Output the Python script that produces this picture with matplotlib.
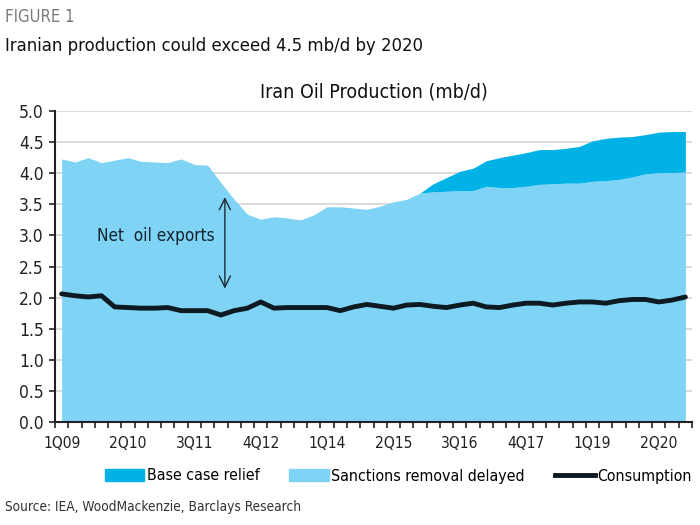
import matplotlib
matplotlib.use("Agg")
import matplotlib.pyplot as plt
from matplotlib.patches import Patch
from matplotlib.lines import Line2D

# quarters 1Q09 .. 4Q20
quarters = [f"{q}Q{y:02d}" for y in range(9, 21) for q in range(1, 5)]
tick_labels = ["1Q09", "2Q10", "3Q11", "4Q12", "1Q14", "2Q15", "3Q16", "4Q17", "1Q19", "2Q20"]

# Sanctions removal delayed (top of light area)
delayed = [4.23, 4.18, 4.25, 4.17, 4.21, 4.25, 4.19, 4.18, 4.17, 4.23, 4.14, 4.13,
           3.85, 3.58, 3.34, 3.26, 3.30, 3.28, 3.25, 3.33, 3.46, 3.46, 3.44, 3.42,
           3.47, 3.54, 3.58, 3.68, 3.70, 3.71, 3.72, 3.72, 3.79, 3.77, 3.77, 3.79,
           3.82, 3.83, 3.84, 3.84, 3.87, 3.88, 3.90, 3.94, 3.99, 4.01, 4.01, 4.02]

# Base case relief (total production)
base = [4.23, 4.18, 4.25, 4.17, 4.21, 4.25, 4.19, 4.18, 4.17, 4.23, 4.14, 4.13,
        3.85, 3.58, 3.34, 3.26, 3.30, 3.28, 3.25, 3.33, 3.46, 3.46, 3.44, 3.42,
        3.47, 3.54, 3.58, 3.68, 3.83, 3.93, 4.03, 4.08, 4.20, 4.25, 4.29, 4.33,
        4.38, 4.38, 4.40, 4.43, 4.52, 4.56, 4.58, 4.59, 4.62, 4.66, 4.67, 4.67]

consumption = [2.06, 2.03, 2.01, 2.03, 1.85, 1.84, 1.83, 1.83, 1.84, 1.79, 1.79, 1.79,
               1.72, 1.79, 1.83, 1.93, 1.83, 1.84, 1.84, 1.84, 1.84, 1.79, 1.85, 1.89,
               1.86, 1.83, 1.88, 1.89, 1.86, 1.84, 1.88, 1.91, 1.85, 1.84, 1.88, 1.91,
               1.91, 1.88, 1.91, 1.93, 1.93, 1.91, 1.95, 1.97, 1.97, 1.93, 1.96, 2.01]

c_base = "#00b2e6"
c_delay = "#7fd3f5"
c_line = "#0d1a22"


def font(size):
    return {"family": "DejaVu Sans", "stretch": "condensed", "size": size}


fig = plt.figure(figsize=(7, 5.25), dpi=100)
ax = fig.add_axes([55 / 700, 103 / 525, 637 / 700, 311 / 525])

x = list(range(len(quarters)))
ax.fill_between(x, 0, delayed, color=c_delay, lw=0, zorder=2)
ax.fill_between(x, delayed, base, color=c_base, lw=0, zorder=2)
ax.plot(x, consumption, color=c_line, lw=3.5, zorder=3, solid_capstyle="round")

ax.set_xlim(-0.5, len(quarters) - 0.5)
ax.set_ylim(0, 5.0)
ax.set_yticks([i * 0.5 for i in range(11)])
ax.set_yticklabels([f"{i * 0.5:.1f}" for i in range(11)], fontdict=font(12.5), color="#222222")
ax.set_xticks([quarters.index(t) for t in tick_labels])
ax.set_xticklabels(tick_labels, fontdict=font(11.2), color="#222222")
ax.set_xticks([i - 0.5 for i in range(len(quarters) + 1)], minor=True)
ax.tick_params(axis="x", which="major", length=0, pad=10)
ax.tick_params(axis="x", which="minor", length=4, width=1.2, color="#222222", direction="out")
ax.tick_params(axis="y", length=4, width=1.2, color="#222222", pad=4)

ax.grid(axis="y", color="#d4d4d4", lw=1.2, zorder=0)
ax.set_axisbelow(True)
for s in ["top", "right"]:
    ax.spines[s].set_visible(False)
for s in ["left", "bottom"]:
    ax.spines[s].set_color("#222222")
    ax.spines[s].set_linewidth(1.5)

ax.annotate("", xy=(12.3, 2.1), xytext=(12.3, 3.66),
            arrowprops=dict(arrowstyle="<->", color="#1a2a35", lw=1.0, mutation_scale=20))
ax.text(2.67, 2.99, "Net  oil exports", fontdict=font(12.3), color="#13232f", va="center")

ax.set_title("Iran Oil Production (mb/d)", fontdict=font(14), color="#111111", pad=10)

fig.text(5 / 700, 1 - 17 / 525, "FIGURE 1", fontdict=font(12), color="#7a7a7a", va="center")
fig.text(5 / 700, 1 - 46 / 525, "Iranian production could exceed 4.5 mb/d by 2020",
         fontdict=font(13.2), color="#111111", va="center")
fig.text(5 / 700, 1 - 507 / 525, "Source: IEA, WoodMackenzie, Barclays Research",
         fontdict=font(9.8), color="#333333", va="center")

handles = [Patch(color=c_base, label="Base case relief"),
           Patch(color=c_delay, label="Sanctions removal delayed"),
           Line2D([], [], color=c_line, lw=3.5, label="Consumption")]
fig.legend(handles=handles, loc="center", bbox_to_anchor=(398 / 700, 1 - 476 / 525), ncol=3,
           frameon=False, prop=font(11.4), handlelength=2.5,
           handletextpad=0.15, columnspacing=1.9)

fig.savefig("out.png", dpi=100)
